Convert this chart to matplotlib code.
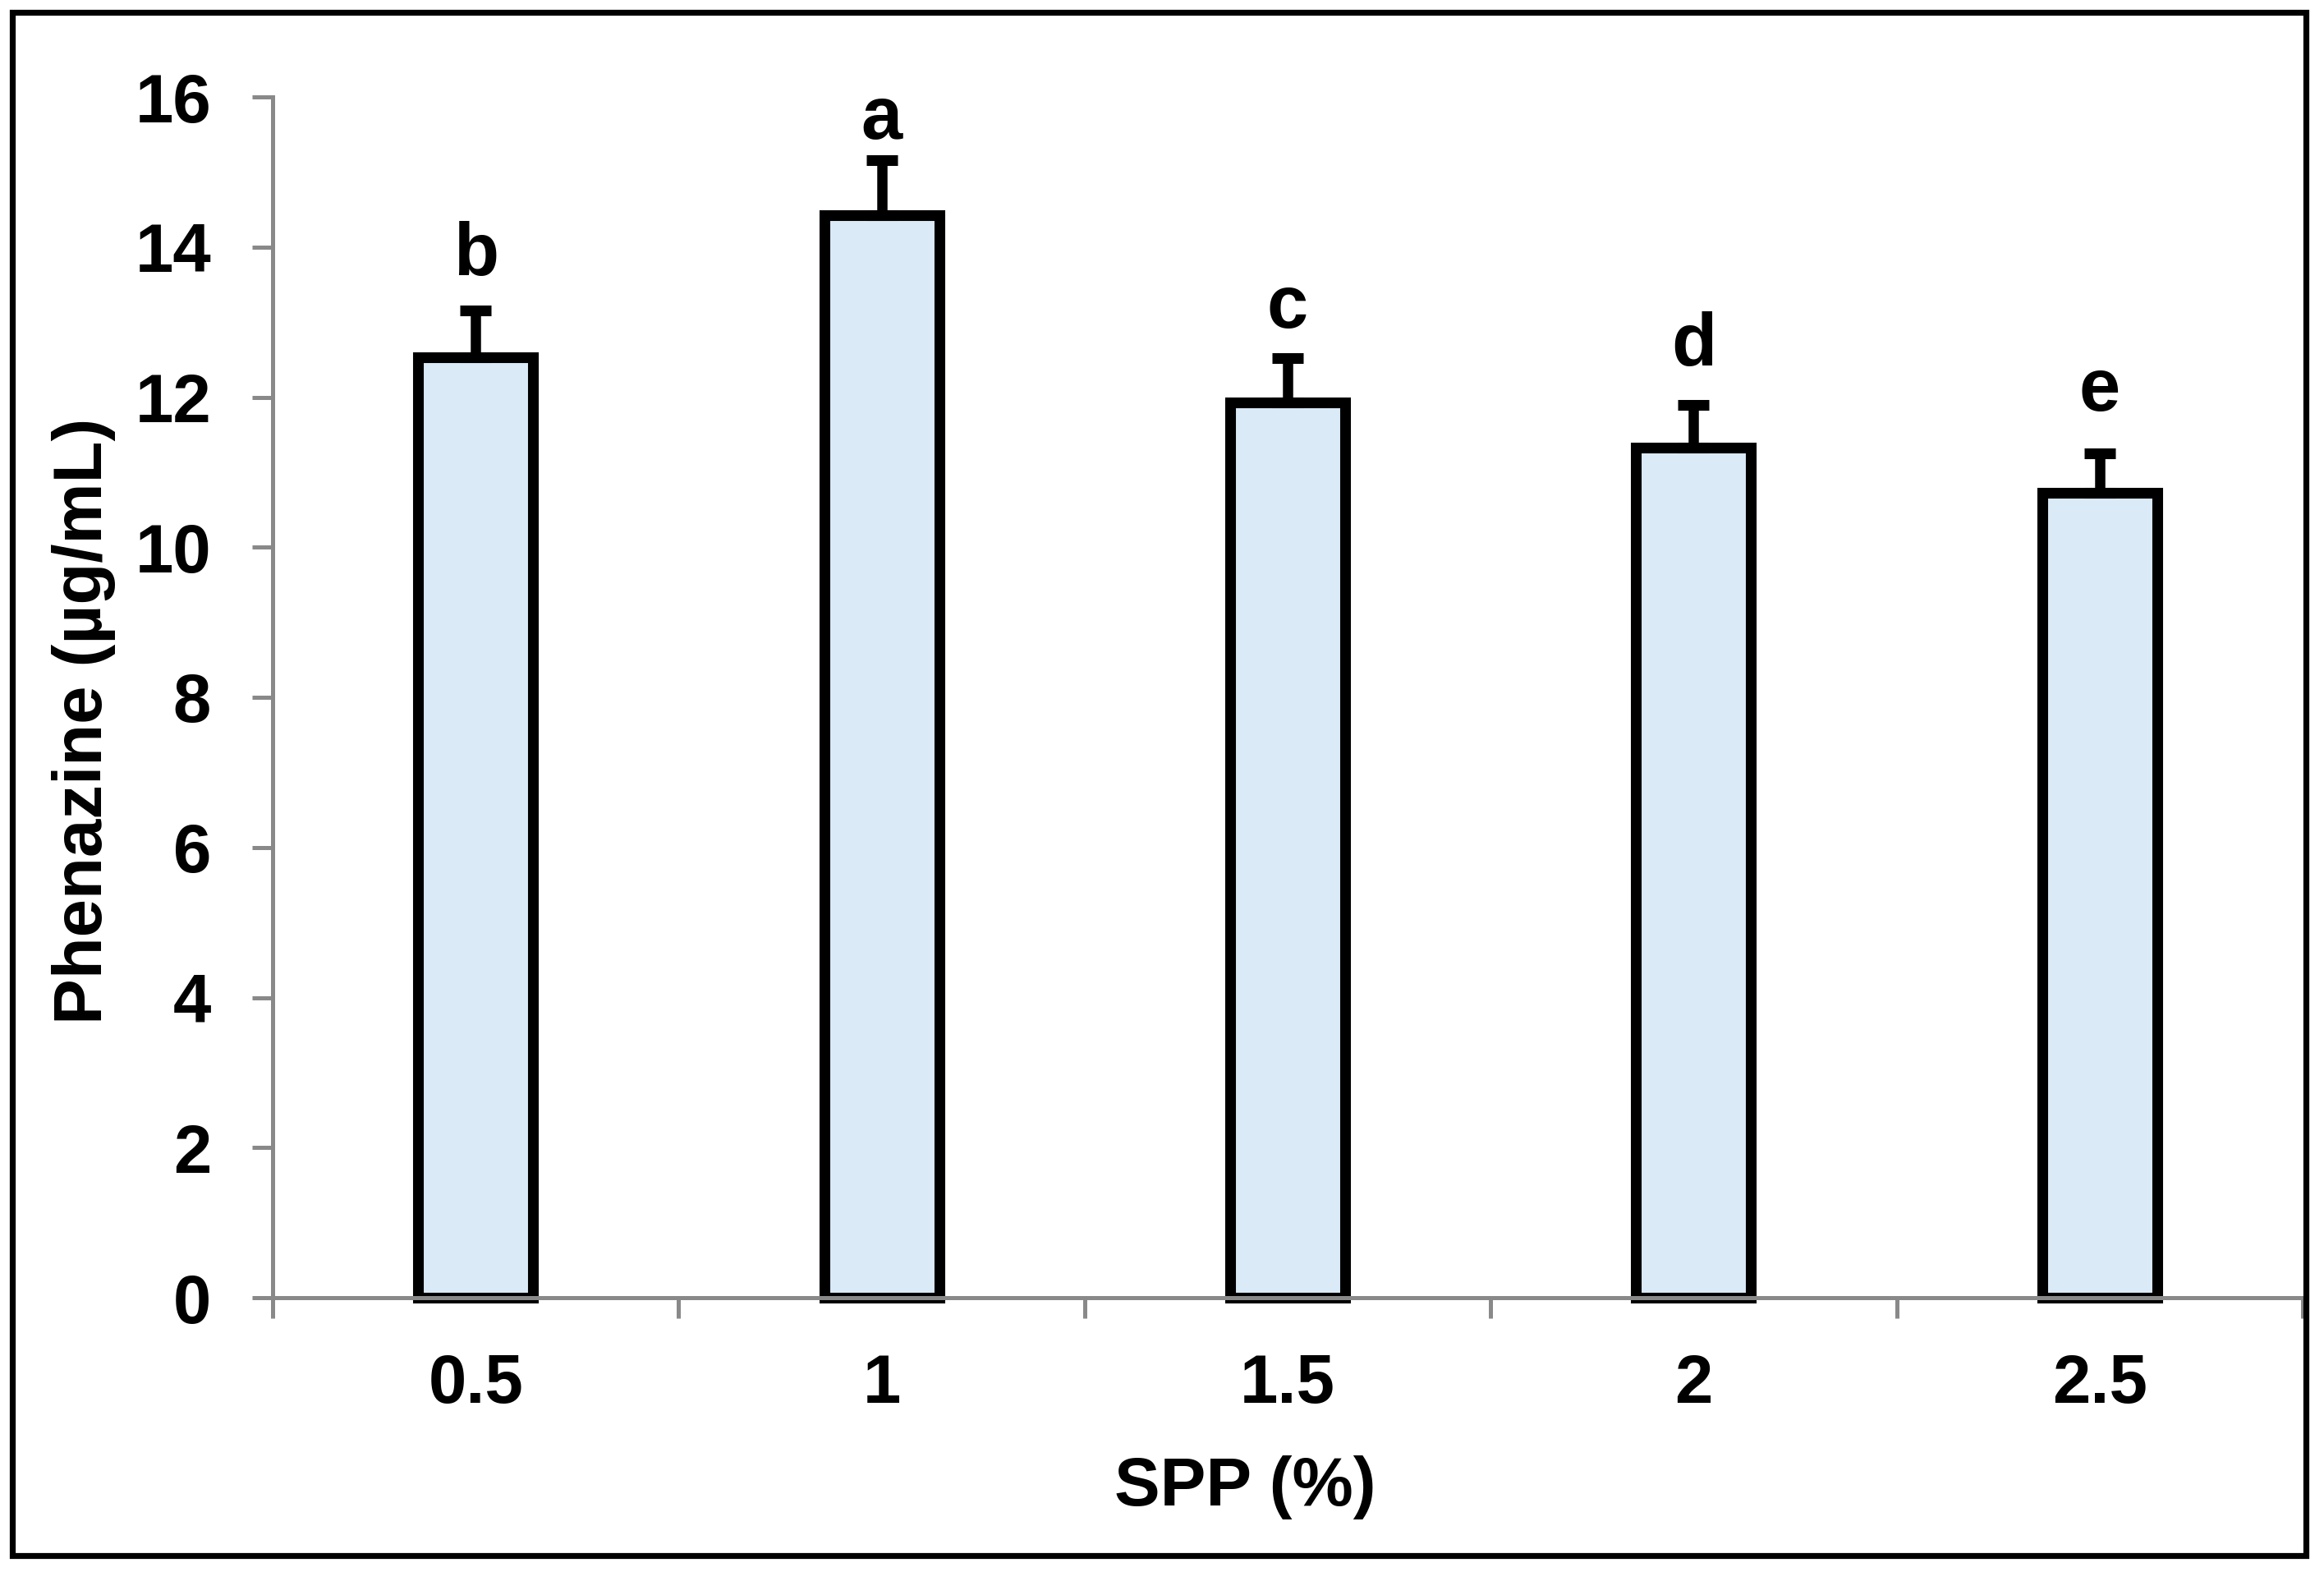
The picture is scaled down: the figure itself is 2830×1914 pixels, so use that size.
import matplotlib
matplotlib.use("Agg")
import matplotlib.pyplot as plt
from matplotlib.patches import Rectangle
import numpy as np

plt.rcParams['font.family'] = ['Liberation Sans', 'DejaVu Sans']
plt.rcParams['font.weight'] = 'bold'

categories = ['0.5', '1', '1.5', '2', '2.5']
values = [12.53, 14.42, 11.93, 11.33, 10.72]
errors = [0.63, 0.74, 0.59, 0.57, 0.53]
letters = ['b', 'a', 'c', 'd', 'e']
letter_y = [13.63, 15.44, 12.93, 12.42, 11.82]
yticks = [0, 2, 4, 6, 8, 10, 12, 14, 16]

W, H = 2830, 1914
fig = plt.figure(figsize=(W / 100, H / 100), dpi=100)
ax = fig.add_axes([332 / W, 1 - 1580 / H, (2804 - 332) / W, (1580 - 118) / H])

x = np.arange(len(categories))
bars = ax.bar(x, values, width=0.283, color='#DBEAF7', edgecolor='black',
              linewidth=9.4, zorder=2, clip_on=False)
ax.errorbar(x, values, yerr=[np.zeros(len(errors)), errors], fmt='none',
            ecolor='black', elinewidth=9, capsize=13.7, capthick=9.4,
            zorder=3, clip_on=False)

for xi, lt, ly in zip(x, letters, letter_y):
    ax.text(xi, ly, lt, ha='center', va='baseline', fontsize=65,
            fontweight='bold')

ax.set_xlim(-0.5, len(categories) - 0.5)
ax.set_ylim(0, 16)
ax.set_yticks(yticks)
ax.set_yticklabels([str(t) for t in yticks])

# category boundaries as major ticks, labels at centers (minor)
ax.set_xticks(np.arange(-0.5, len(categories) + 0.5, 1.0))
ax.set_xticklabels([])
ax.set_xticks(x, minor=True)
ax.set_xticklabels(categories, minor=True)

gray = '#898989'
for s in ['top', 'right']:
    ax.spines[s].set_visible(False)
for s in ['left', 'bottom']:
    ax.spines[s].set_color(gray)
    ax.spines[s].set_linewidth(3.6)
    ax.spines[s].set_zorder(2.5)

ax.tick_params(axis='y', which='major', direction='out', length=18,
               width=3.6, color=gray, labelsize=60, pad=36)
ax.tick_params(axis='x', which='major', direction='out', length=18,
               width=3.6, color=gray)
ax.tick_params(axis='x', which='minor', length=0, labelsize=60, pad=48)
for lbl in ax.get_yticklabels() + ax.get_xticklabels(minor=True):
    lbl.set_fontweight('bold')

fig.text(124 / W, 1 - 878 / H, 'Phenazine (µg/mL)', rotation=90,
         rotation_mode='anchor', ha='center', va='baseline', fontsize=60,
         fontweight='bold')
fig.text(1516 / W, 1 - 1833 / H, 'SPP (%)', ha='center', va='baseline',
         fontsize=60, fontweight='bold')

frame = Rectangle((15 / W, 1 - 1893.5 / H), (2808 - 15) / W,
                  (1893.5 - 14.5) / H, transform=fig.transFigure,
                  fill=False, edgecolor='black', linewidth=5.2)
fig.patches.append(frame)

fig.savefig('out.png', dpi=100, facecolor='white')
